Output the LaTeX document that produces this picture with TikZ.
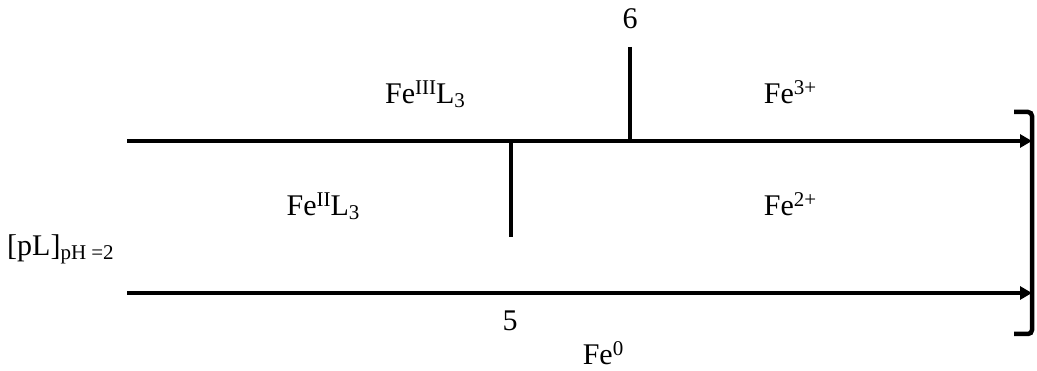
\documentclass[tikz,border=0pt]{standalone}
\usepackage{fontspec}
\setmainfont{Liberation Serif}
\usetikzlibrary{arrows.meta}
\tikzset{
  lbl/.style={inner sep=0pt, anchor=base, font=\fontsize{30}{33}\selectfont},
  bar/.style={line width=4.5pt},
  axis/.style={line width=4.5pt, -{Triangle[length=12pt,width=13pt]}, shorten >=-1pt},
}
\newcommand{\sps}[1]{\raisebox{0.33em}{\fontsize{21}{22}\selectfont #1}}
\newcommand{\sbs}[1]{\raisebox{-0.12em}{\fontsize{21}{22}\selectfont #1}}
\begin{document}
\begin{tikzpicture}[x=1pt,y=-1pt]
  \useasboundingbox (0,0) rectangle (1037,371);
  % end points of the two horizontal axes and the boundary bars
  \coordinate (a1s) at (127,141);
  \coordinate (a1e) at (1031,141);
  \coordinate (a2s) at (127,293);
  \coordinate (a2e) at (1031,293);
  \coordinate (v6t) at (630,47);
  \coordinate (v6b) at (630,141);
  \coordinate (v5t) at (511,141);
  \coordinate (v5b) at (511,237);
  \coordinate (bt) at (1014,112);
  \coordinate (bc1) at (1032,112);
  \coordinate (bc2) at (1032,334);
  \coordinate (bb) at (1014,334);

  \draw[axis] (a1s) -- (a1e);
  \draw[axis] (a2s) -- (a2e);
  \draw[bar] (v6t) -- (v6b);
  \draw[bar] (v5t) -- (v5b);
  \draw[bar, rounded corners=4pt] (bt) -- (bc1) -- (bc2) -- (bb);

  % labels
  \node[lbl] (six) at (630,29) {6};
  \node[lbl] (fe3l) at (425,104) {Fe\sps{III}L\sbs{3}};
  \node[lbl] (fe3) at (790,104) {Fe\sps{3+}};
  \node[lbl] (fe2l) at (323,216) {Fe\sps{II}L\sbs{3}};
  \node[lbl] (fe2) at (790,216) {Fe\sps{2+}};
  \node[lbl, anchor=base west] (pl) at (7,256) {[pL]\sbs{pH =2}};
  \node[lbl] (five) at (510,331) {5};
  \node[lbl] (fe0) at (603,365) {Fe\sps{0}};
\end{tikzpicture}
\end{document}
